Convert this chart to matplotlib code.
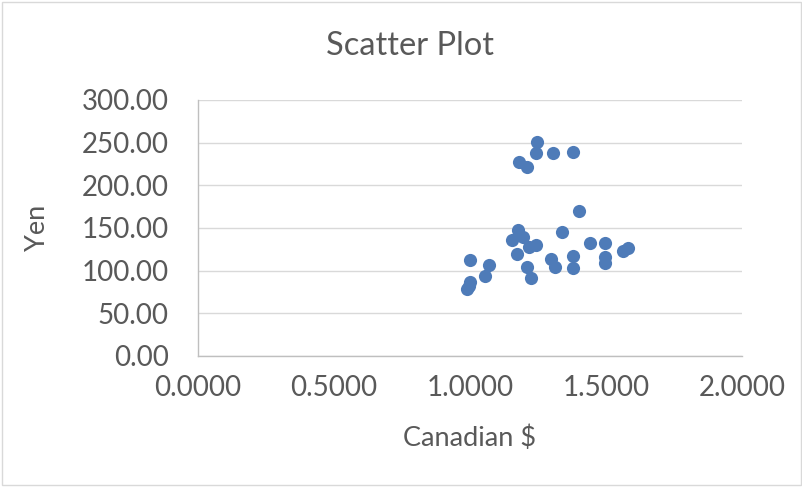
import matplotlib

matplotlib.use("Agg")

import matplotlib.pyplot as plt
from matplotlib.patches import Rectangle

canadian = [1.2452, 1.2426, 1.3063, 1.3776, 1.1790, 1.2085, 1.4018, 1.1754,
            1.1544, 1.1960, 1.2158, 1.2426, 1.3371, 1.4412, 1.4963, 1.5614,
            1.5820, 1.0000, 1.0710, 1.1739, 1.2085, 1.2232, 1.0551, 1.2978,
            1.3125, 1.3798, 1.3776, 1.4963, 1.4963, 1.0000, 0.9963, 0.9879]
yen = [251.1, 238.2, 238.2, 239.4, 227.7, 221.1, 169.9, 147.7,
       135.9, 139.8, 128.1, 130.1, 145.7, 132.1, 132.1, 123.1,
       126.2, 112.5, 106.6, 119.5, 104.3, 91.8, 94.1, 113.3,
       104.6, 116.8, 102.8, 116.4, 108.6, 87.1, 82.0, 78.2]

x_ticks = [0.0, 0.5, 1.0, 1.5, 2.0]
y_ticks = [0, 50, 100, 150, 200, 250, 300]

text_color = "#595959"
plt.rcParams["font.family"] = ["Lato", "DejaVu Sans"]

fig = plt.figure(figsize=(8.03, 4.87), dpi=100)
fig.patches.append(Rectangle((0.003, 0.005), 0.994, 0.99, transform=fig.transFigure,
                             fill=False, edgecolor="#D9D9D9", linewidth=1))
ax = fig.add_axes([0.2466, 0.269, 0.6774, 0.5257])

ax.scatter(canadian, yen, s=90, color="#4E7BB8", linewidths=0, zorder=3)

ax.set_xlim(0, 2)
ax.set_ylim(0, 300)
ax.set_xticks(x_ticks)
ax.set_yticks(y_ticks)
ax.set_xticklabels([f"{v:.4f}" for v in x_ticks])
ax.set_yticklabels([f"{v:.2f}" for v in y_ticks])
ax.tick_params(length=0, labelsize=20, labelcolor=text_color)
ax.tick_params(axis="y", pad=21)
ax.tick_params(axis="x", pad=14)
ax.yaxis.grid(True, color="#D9D9D9", linewidth=1)
ax.set_axisbelow(True)

for side in ("top", "right"):
    ax.spines[side].set_visible(False)
for side in ("left", "bottom"):
    ax.spines[side].set_color("#BFBFBF")
    ax.spines[side].set_linewidth(1)

ax.set_xlabel("Canadian $", fontsize=19.5, color=text_color, labelpad=17)
ax.set_ylabel("Yen", fontsize=19.5, color=text_color, labelpad=23)
fig.text(0.511, 0.905, "Scatter Plot", ha="center", va="center",
         fontsize=23.5, color=text_color)

fig.savefig("out.png", dpi=100)
